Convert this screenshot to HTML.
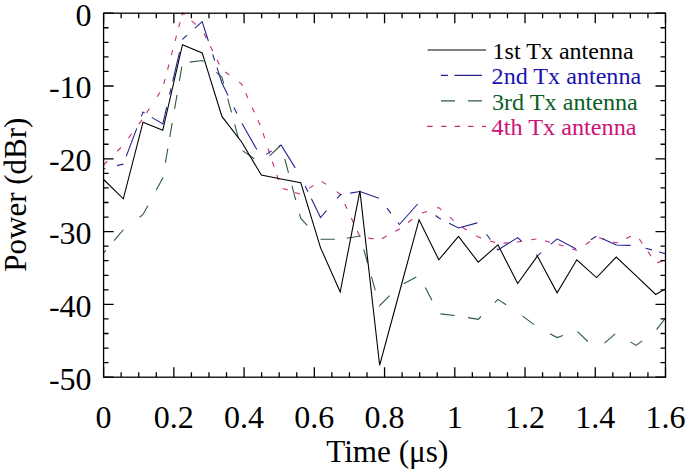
<!DOCTYPE html>
<html><head><meta charset="utf-8"><style>
html,body{margin:0;padding:0;background:#fff;}
svg{display:block;}
text{font-family:"Liberation Serif",serif;}
</style></head><body>
<svg width="685" height="469" viewBox="0 0 685 469">
<rect width="685" height="469" fill="#fff"/>
<defs><clipPath id="c"><rect x="103.6" y="11.2" width="561.9" height="368.0"/></clipPath></defs>
<g clip-path="url(#c)" fill="none" stroke-width="1.1" stroke-linejoin="miter">
<path d="M103.6,253.0L105.9,250.3M114.1,240.6L123.3,229.7L123.4,229.7M139.6,217.2L143.0,214.5L147.8,205.7M156.2,190.1L162.8,178.0L162.8,177.5M165.4,162.7L167.8,148.7M169.8,137.0L172.2,122.9M174.6,108.9L177.0,94.8M179.4,80.8L181.8,66.7M189.7,62.1L202.2,60.5L203.5,61.6M216.3,72.3L221.9,77.0L223.7,83.7M227.7,98.6L231.5,112.4M234.7,124.4L238.4,138.2M242.5,150.6L254.3,158.7M269.6,155.8L280.0,146.0M284.8,159.0L288.5,172.8M292.0,185.9L295.7,199.8M299.5,213.9L300.8,218.5L307.3,225.4M320.5,239.3L334.8,239.3M346.8,238.2L359.9,236.0L360.2,237.0M363.7,249.3L367.6,263.1M371.4,276.6L375.3,290.4M379.6,305.5L379.6,305.7L389.6,295.7M403.7,283.7L416.3,277.0M425.3,287.6L431.9,300.3M440.4,313.9L454.6,315.5M468.1,317.6L478.2,319.3L481.0,316.5M494.7,302.6L497.9,299.4L506.1,304.8M522.6,316.1L534.1,324.6M550.0,333.8L557.1,337.6L563.0,335.6M577.5,331.6L587.8,341.5M604.4,343.2L615.2,333.9M630.4,341.9L636.0,345.4L642.2,340.9M656.6,329.7L665.2,318.3M672.8,308.1L675.4,304.7" stroke="#2c5a3c"/>
<path d="M103.6,165.0L107.3,161.2M117.2,151.3L120.9,147.5M128.5,138.1L131.6,133.8M138.8,124.2L142.0,119.9M146.6,112.9L149.5,108.5M157.2,96.7L160.0,92.2M163.8,84.0L165.1,78.9M167.6,69.6L168.9,64.5M171.4,55.2L172.7,50.1M175.2,40.8L176.5,35.7M178.7,27.2L180.1,22.1M181.8,15.6L182.5,13.0L184.5,14.7M191.6,20.9L195.6,24.3M204.0,33.6L206.4,38.3M210.3,46.3L212.7,51.1M217.0,59.7L219.4,64.5M225.3,72.0L229.5,75.1M239.0,82.1L241.6,84.0L242.5,85.9M245.8,93.2L247.9,98.1M252.1,107.5L254.3,112.3M257.9,120.3L260.1,125.1M263.0,133.1L264.7,138.1M268.1,148.5L269.7,153.5M272.4,161.8L274.1,166.8M276.8,174.9L278.4,180.0M282.7,188.5L287.8,190.1M295.0,192.5L300.0,194.1M309.2,188.4L313.5,185.4M321.8,181.4L326.1,184.4M336.7,191.6L340.2,194.0L340.7,195.0M344.8,204.0L347.1,208.8M351.3,217.9L353.5,222.7M357.4,231.1L359.6,235.9M368.2,238.0L373.5,238.9M381.9,238.7L386.6,236.1M395.3,231.3L399.4,229.0L399.9,228.6M408.0,222.5L412.2,219.2M422.0,213.0L427.1,211.4M437.0,208.1L438.8,207.5L441.3,209.8M449.8,217.2L453.7,220.7M462.3,227.3L466.8,230.0M476.3,235.8L478.2,237.0L481.2,238.0M490.1,240.9L495.2,242.6M503.6,243.1L508.8,242.7M516.9,242.1L517.7,242.0L522.2,241.3M531.2,239.8L536.4,239.0M545.0,240.8L550.1,242.2M558.6,244.5L563.6,246.1M572.1,248.9L576.8,250.5L577.1,250.3M585.6,244.5L590.0,241.5M599.1,237.8L604.2,239.3M612.9,242.0L616.2,243.0L617.9,242.3M626.1,238.5L630.9,236.3M639.3,239.0L642.3,243.4M648.1,251.9L651.1,256.3M657.1,262.6L662.3,261.3M670.8,259.2L675.4,258.0" stroke="#c92a78"/>
<path d="M103.6,169.0L105.4,168.5M117.1,165.6L123.3,164.0L123.3,163.9M126.2,156.4L136.8,128.4M141.4,116.4L143.0,112.0L144.6,112.9M151.8,117.4L162.8,124.0L166.7,107.2M169.6,94.7L171.0,88.4M172.7,81.3L179.5,52.1M182.4,39.6L182.5,39.4L187.1,35.2M194.9,28.2L202.2,21.7L208.4,41.0M212.7,54.4L214.7,60.6M217.0,67.7L221.9,83.0L228.1,95.5M234.0,107.6L236.9,113.5M242.0,123.6L256.8,149.6M266.2,154.4L271.7,150.9M278.5,146.6L281.1,145.0L295.2,167.9M305.1,185.9L308.0,191.8M311.4,198.8L320.5,217.5L326.5,210.6M337.0,198.5L340.2,194.8L341.8,194.5M350.2,193.1L359.9,191.5L378.9,198.2M387.0,208.2L390.9,213.4M397.9,222.5L399.4,224.5L417.7,204.0M435.6,215.5L438.8,218.0L440.9,219.1M449.1,223.2L458.5,228.0L477.3,222.9M486.5,234.2L490.3,239.5M496.9,248.6L497.9,250.0L517.7,237.6L521.3,241.0M536.2,254.7L537.4,255.8L541.1,252.6M550.7,244.3L557.1,238.8L576.1,249.1M590.9,239.8L596.3,236.2M602.0,238.5L616.2,245.0L630.6,245.4M645.6,248.2L651.9,249.9M659.1,252.0L675.4,256.5" stroke="#25228f"/>
<polyline points="103.60,179.50 123.32,198.80 143.03,122.20 162.75,130.30 182.47,44.70 202.19,52.90 221.90,116.40 241.62,142.00 261.34,175.00 281.05,179.00 300.77,182.70 320.49,247.60 340.20,292.00 359.92,190.80 379.64,365.30 399.36,292.50 419.07,219.70 438.79,259.80 458.51,236.30 478.22,262.20 497.94,244.80 517.66,283.50 537.37,256.10 557.09,292.80 576.81,259.80 596.52,277.60 616.24,257.00 635.96,275.60 655.68,294.50 675.39,283.50" stroke="#000" stroke-width="1.1"/>
</g>
<path d="M103.60,377.2V367.20M103.60,13.2V23.20M121.16,377.2V372.20M121.16,13.2V18.20M138.72,377.2V372.20M138.72,13.2V18.20M156.28,377.2V372.20M156.28,13.2V18.20M173.84,377.2V367.20M173.84,13.2V23.20M191.40,377.2V372.20M191.40,13.2V18.20M208.96,377.2V372.20M208.96,13.2V18.20M226.52,377.2V372.20M226.52,13.2V18.20M244.07,377.2V367.20M244.07,13.2V23.20M261.63,377.2V372.20M261.63,13.2V18.20M279.19,377.2V372.20M279.19,13.2V18.20M296.75,377.2V372.20M296.75,13.2V18.20M314.31,377.2V367.20M314.31,13.2V23.20M331.87,377.2V372.20M331.87,13.2V18.20M349.43,377.2V372.20M349.43,13.2V18.20M366.99,377.2V372.20M366.99,13.2V18.20M384.55,377.2V367.20M384.55,13.2V23.20M402.11,377.2V372.20M402.11,13.2V18.20M419.67,377.2V372.20M419.67,13.2V18.20M437.23,377.2V372.20M437.23,13.2V18.20M454.79,377.2V367.20M454.79,13.2V23.20M472.35,377.2V372.20M472.35,13.2V18.20M489.91,377.2V372.20M489.91,13.2V18.20M507.47,377.2V372.20M507.47,13.2V18.20M525.02,377.2V367.20M525.02,13.2V23.20M542.58,377.2V372.20M542.58,13.2V18.20M560.14,377.2V372.20M560.14,13.2V18.20M577.70,377.2V372.20M577.70,13.2V18.20M595.26,377.2V367.20M595.26,13.2V23.20M612.82,377.2V372.20M612.82,13.2V18.20M630.38,377.2V372.20M630.38,13.2V18.20M647.94,377.2V372.20M647.94,13.2V18.20M665.50,377.2V367.20M665.50,13.2V23.20M103.6,13.20H113.60M665.5,13.20H655.50M103.6,27.76H108.60M665.5,27.76H660.50M103.6,42.32H108.60M665.5,42.32H660.50M103.6,56.88H108.60M665.5,56.88H660.50M103.6,71.44H108.60M665.5,71.44H660.50M103.6,86.00H113.60M665.5,86.00H655.50M103.6,100.56H108.60M665.5,100.56H660.50M103.6,115.12H108.60M665.5,115.12H660.50M103.6,129.68H108.60M665.5,129.68H660.50M103.6,144.24H108.60M665.5,144.24H660.50M103.6,158.80H113.60M665.5,158.80H655.50M103.6,173.36H108.60M665.5,173.36H660.50M103.6,187.92H108.60M665.5,187.92H660.50M103.6,202.48H108.60M665.5,202.48H660.50M103.6,217.04H108.60M665.5,217.04H660.50M103.6,231.60H113.60M665.5,231.60H655.50M103.6,246.16H108.60M665.5,246.16H660.50M103.6,260.72H108.60M665.5,260.72H660.50M103.6,275.28H108.60M665.5,275.28H660.50M103.6,289.84H108.60M665.5,289.84H660.50M103.6,304.40H113.60M665.5,304.40H655.50M103.6,318.96H108.60M665.5,318.96H660.50M103.6,333.52H108.60M665.5,333.52H660.50M103.6,348.08H108.60M665.5,348.08H660.50M103.6,362.64H108.60M665.5,362.64H660.50M103.6,377.20H113.60M665.5,377.20H655.50" stroke="#000" stroke-width="1.3" fill="none"/>
<rect x="103.6" y="13.2" width="561.90" height="364.00" fill="none" stroke="#000" stroke-width="1.3"/>
<g font-size="32" fill="#000">
<text x="103.60" y="427.6" text-anchor="middle">0</text>
<text x="173.84" y="427.6" text-anchor="middle">0.2</text>
<text x="244.07" y="427.6" text-anchor="middle">0.4</text>
<text x="314.31" y="427.6" text-anchor="middle">0.6</text>
<text x="384.55" y="427.6" text-anchor="middle">0.8</text>
<text x="454.79" y="427.6" text-anchor="middle">1</text>
<text x="525.02" y="427.6" text-anchor="middle">1.2</text>
<text x="595.26" y="427.6" text-anchor="middle">1.4</text>
<text x="665.50" y="427.6" text-anchor="middle">1.6</text>
<text x="91.6" y="25.50" text-anchor="end">0</text>
<text x="91.6" y="98.30" text-anchor="end">-10</text>
<text x="91.6" y="171.10" text-anchor="end">-20</text>
<text x="91.6" y="243.90" text-anchor="end">-30</text>
<text x="91.6" y="316.70" text-anchor="end">-40</text>
<text x="91.6" y="389.50" text-anchor="end">-50</text>
</g>
<text x="387.3" y="462" font-size="31.2" text-anchor="middle">Time (μs)</text>
<text transform="translate(26,194.7) rotate(-90)" font-size="31" text-anchor="middle">Power (dBr)</text>
<g fill="none" stroke-width="1.2">
<path d="M427.6,50H486" stroke="#000" stroke-width="1"/>
<path d="M441,75.3H448M454.5,75.3H482" stroke="#25228f"/>
<path d="M441,100.9H455M468,100.9H482" stroke="#2c5a3c"/>
<path d="M427.2,126.3H432.6M441.2,126.3H446.4M454.7,126.3H460.1M468.1,126.3H473.5M482,126.3H486" stroke="#c92a78"/>
</g>
<g font-size="23.3">
<text x="492.6" y="58.7" fill="#000" textLength="141" lengthAdjust="spacingAndGlyphs">1st Tx antenna</text>
<text x="491.6" y="84.2" fill="#1a12b0" textLength="149.6" lengthAdjust="spacingAndGlyphs">2nd Tx antenna</text>
<text x="492" y="109.6" fill="#0b5e23" textLength="145.8" lengthAdjust="spacingAndGlyphs">3rd Tx antenna</text>
<text x="491.6" y="135" fill="#cc1377" textLength="145" lengthAdjust="spacingAndGlyphs">4th Tx antenna</text>
</g>
</svg>
</body></html>
